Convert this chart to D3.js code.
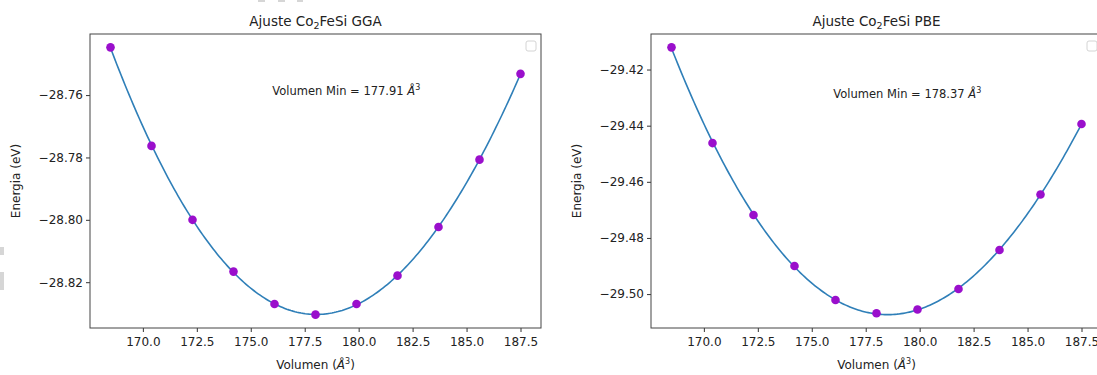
<!DOCTYPE html>
<html>
<head>
<meta charset="utf-8">
<script src="https://cdn.jsdelivr.net/npm/d3@7"></script>
<style>
  body { margin: 0; background: #fff; }
  text { font-family: "DejaVu Sans", sans-serif; fill: #222; }
</style>
</head>
<body>
<div id="chart"></div>
<script>
// data
var volumen = [168.5, 170.4, 172.3, 174.2, 176.1, 178.0, 179.9, 181.8, 183.7, 185.6, 187.5];
var energiaGGA = [-28.7447, -28.7763, -28.8000, -28.8166, -28.8270, -28.8304, -28.8270, -28.8179, -28.8023, -28.7807, -28.7532];
var energiaPBE = [-29.4121, -29.4462, -29.4718, -29.4900, -29.5021, -29.5068, -29.5055, -29.4982, -29.4843, -29.4645, -29.4394];
var xTicks = [170.0, 172.5, 175.0, 177.5, 180.0, 182.5, 185.0, 187.5];
var yTicksGGA = [-28.82, -28.80, -28.78, -28.76];
var yTicksPBE = [-29.50, -29.48, -29.46, -29.44, -29.42];
var titles = ["GGA", "PBE"];
var minLabels = ["177.91", "178.37"];
var labelPos = [[176, -28.76], [176, -29.43]];

var width = 1097, height = 375;
var top_ = 34, bottom_ = 328, plotW = 451;
var lefts = [90, 651];

var svg = d3.select("#chart").append("svg")
    .attr("width", width)
    .attr("height", height);

svg.append("rect").attr("width", width).attr("height", height).attr("fill", "#fff");

// small grey leftovers at the picture edges
[[258, 0, 7, 2], [278, 0, 7, 2], [297, 0, 6, 2], [0, 247, 4, 8], [0, 272, 4, 18]].forEach(function(r) {
  svg.append("rect").attr("x", r[0]).attr("y", r[1]).attr("width", r[2]).attr("height", r[3])
    .attr("fill", "#d6d6d6");
});

// cubic least squares fit, like the fit in the original notebook
function fitCubic(xs, ys) {
  var c = 178, n = 4;
  var A = [], b = [];
  for (var i = 0; i < n; i++) { A.push([0, 0, 0, 0]); b.push(0); }
  xs.forEach(function(x, k) {
    var t = x - c;
    for (var i = 0; i < n; i++) {
      for (var j = 0; j < n; j++) A[i][j] += Math.pow(t, i + j);
      b[i] += ys[k] * Math.pow(t, i);
    }
  });
  for (var i = 0; i < n; i++) {
    for (var r = i + 1; r < n; r++) {
      var f = A[r][i] / A[i][i];
      for (var j = i; j < n; j++) A[r][j] -= f * A[i][j];
      b[r] -= f * b[i];
    }
  }
  var coef = [0, 0, 0, 0];
  for (var i = n - 1; i >= 0; i--) {
    var s = b[i];
    for (var j = i + 1; j < n; j++) s -= A[i][j] * coef[j];
    coef[i] = s / A[i][i];
  }
  return function(x) {
    var t = x - c;
    return coef[0] + coef[1] * t + coef[2] * t * t + coef[3] * t * t * t;
  };
}

var panels = [
  {energia: energiaGGA, yTicks: yTicksGGA},
  {energia: energiaPBE, yTicks: yTicksPBE}
];

panels.forEach(function(p, idx) {
  var g = svg.append("g").attr("transform", "translate(" + lefts[idx] + "," + top_ + ")");
  var h = bottom_ - top_;

  var f = fitCubic(volumen, p.energia);
  var xsFit = d3.range(0, 201).map(function(i) { return volumen[0] + (volumen[volumen.length - 1] - volumen[0]) * i / 200; });
  var fit = xsFit.map(function(x) { return [x, f(x)]; });

  var xExt = d3.extent(volumen);
  var xPad = (xExt[1] - xExt[0]) * 0.05;
  var x = d3.scaleLinear().domain([xExt[0] - xPad, xExt[1] + xPad]).range([0, plotW]);

  var allY = p.energia.concat(fit.map(function(d) { return d[1]; }));
  var yExt = d3.extent(allY);
  var yPad = (yExt[1] - yExt[0]) * 0.05;
  var y = d3.scaleLinear().domain([yExt[0] - yPad, yExt[1] + yPad]).range([h, 0]);

  var clipId = "clip" + idx;
  g.append("clipPath").attr("id", clipId).append("rect")
      .attr("width", plotW).attr("height", h);

  var plot = g.append("g").attr("clip-path", "url(#" + clipId + ")");

  plot.append("path")
      .datum(fit)
      .attr("fill", "none")
      .attr("stroke", "#2f7fb8")
      .attr("stroke-width", 1.6)
      .attr("d", d3.line().x(function(d) { return x(d[0]); }).y(function(d) { return y(d[1]); }));

  plot.selectAll("circle")
      .data(volumen)
    .enter().append("circle")
      .attr("cx", function(d) { return x(d); })
      .attr("cy", function(d, i) { return y(p.energia[i]); })
      .attr("r", 4.3)
      .attr("fill", "#9a0fcc");

  // annotation
  var t = g.append("text")
      .attr("x", x(labelPos[idx][0]))
      .attr("y", y(labelPos[idx][1]))
      .style("font-size", "11.5px");
  t.append("tspan").text("Volumen Min = " + minLabels[idx] + " ");
  t.append("tspan").style("font-style", "italic").text("Å");
  t.append("tspan").attr("dy", -5).style("font-size", "8px").text("3");

  // empty legend box
  g.append("rect")
      .attr("x", plotW - 15).attr("y", 7)
      .attr("width", 10).attr("height", 10)
      .attr("rx", 2)
      .attr("fill", "#fff")
      .attr("stroke", "#d4d4d4");

  // axes
  var xAxis = g.append("g")
      .attr("transform", "translate(0," + h + ")")
      .call(d3.axisBottom(x).tickValues(xTicks).tickFormat(d3.format(".1f")).tickSizeInner(4).tickSizeOuter(0));
  var yAxis = g.append("g")
      .call(d3.axisLeft(y).tickValues(p.yTicks).tickFormat(function(d) { return d3.format(".2f")(d).replace("-", "\u2212"); }).tickSizeInner(4).tickSizeOuter(0));
  [xAxis, yAxis].forEach(function(a) {
    a.select(".domain").remove();
    a.selectAll("line").attr("stroke", "#333");
    a.selectAll("text").style("font-size", "12px").attr("fill", "#222");
  });
  xAxis.selectAll("text").attr("dy", "0.95em");

  g.append("rect")
      .attr("width", plotW).attr("height", h)
      .attr("fill", "none")
      .attr("stroke", "#444")
      .attr("stroke-width", 1);

  // title
  var tt = g.append("text")
      .attr("x", plotW / 2).attr("y", -8)
      .attr("text-anchor", "middle")
      .style("font-size", "13.5px");
  tt.append("tspan").text("Ajuste Co");
  tt.append("tspan").attr("dy", 3).style("font-size", "9.5px").text("2");
  tt.append("tspan").attr("dy", -3).text("FeSi " + titles[idx]);

  // axis labels
  var xl = g.append("text")
      .attr("x", plotW / 2).attr("y", h + 41)
      .attr("text-anchor", "middle")
      .style("font-size", "12px");
  xl.append("tspan").text("Volumen (");
  xl.append("tspan").style("font-style", "italic").text("Å");
  xl.append("tspan").attr("dy", -5).style("font-size", "8px").text("3");
  xl.append("tspan").attr("dy", 5).text(")");

  g.append("text")
      .attr("transform", "translate(" + (-70) + "," + (h / 2) + ") rotate(-90)")
      .attr("text-anchor", "middle")
      .style("font-size", "12px")
      .text("Energia (eV)");
});
</script>
</body>
</html>
